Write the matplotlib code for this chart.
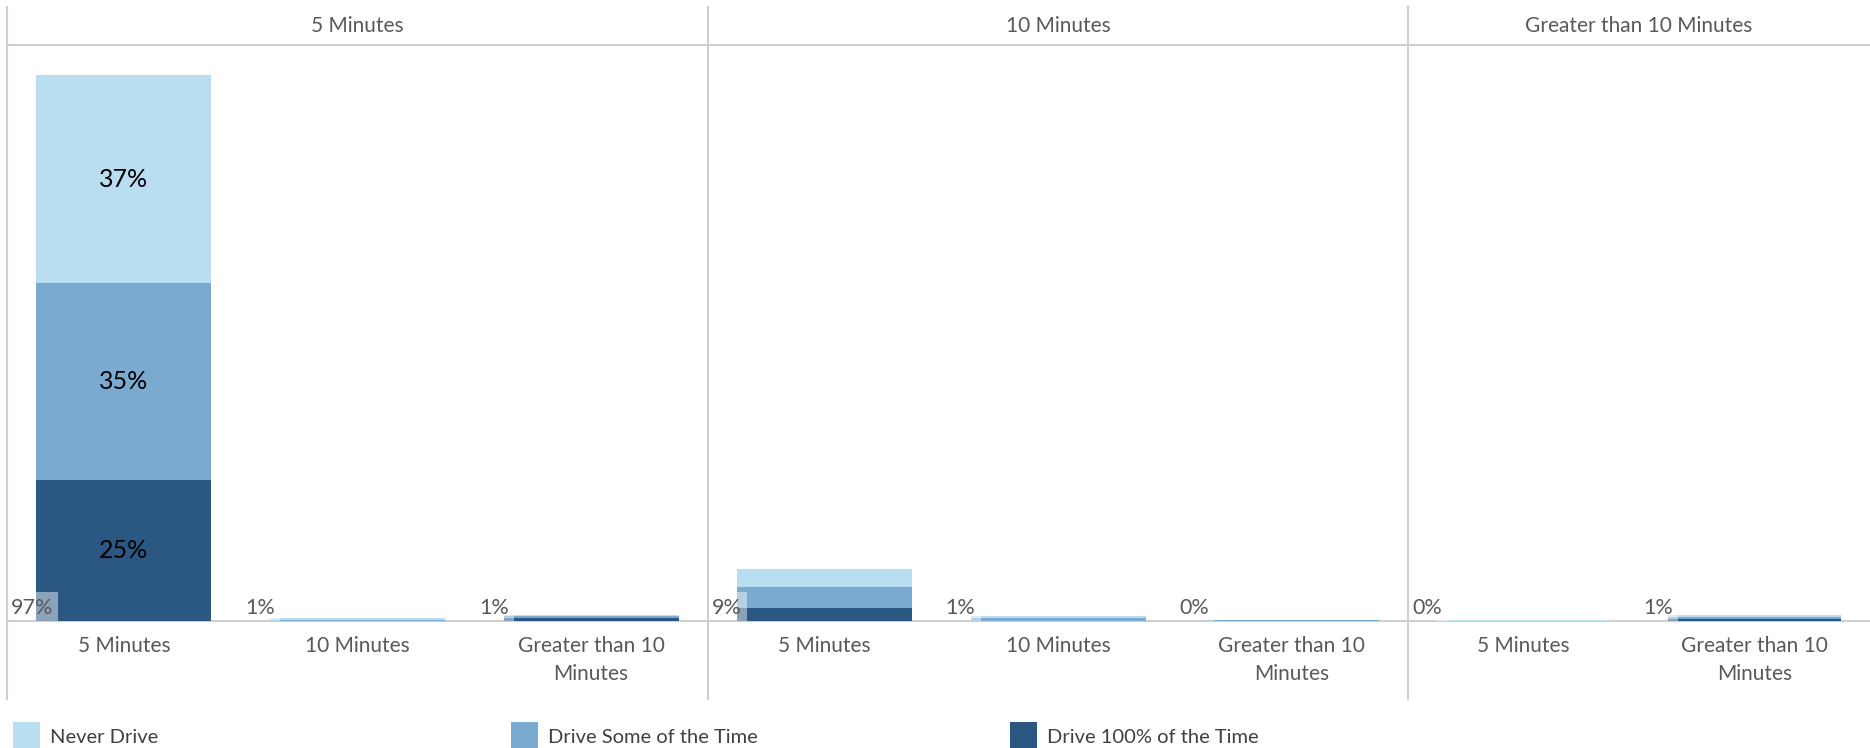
import numpy as np
import matplotlib
matplotlib.use('Agg')
import matplotlib.pyplot as plt
from matplotlib.lines import Line2D
from matplotlib.patches import Rectangle
import matplotlib.transforms as mtransforms

plt.rcParams['font.family'] = ['Lato', 'DejaVu Sans']

# data
panels = ['5 Minutes', '10 Minutes', 'Greater than 10 Minutes']
panel_cats = [['5 Minutes', '10 Minutes', 'Greater than 10\nMinutes'],
              ['5 Minutes', '10 Minutes', 'Greater than 10\nMinutes'],
              ['5 Minutes', 'Greater than 10\nMinutes']]
series = ['Never Drive', 'Drive Some of the Time', 'Drive 100% of the Time']
drive_100 = [[25, 0.0, 0.6], [2.3, 0.0, 0.05], [0.05, 0.4]]
drive_some = [[35, 0.2, 0.2], [3.7, 0.5, 0.05], [0.0, 0.3]]
never_drive = [[37, 0.3, 0.2], [3.2, 0.3, 0.05], [0.05, 0.3]]
totals = [[97, 1, 1], [9, 1, 0], [0, 1]]

colors = {'Never Drive': '#badef1',
          'Drive Some of the Time': '#7aaad0',
          'Drive 100% of the Time': '#2b5783'}
grey_txt = '#595959'
line_c = '#cfcfcf'

W, H = 1870, 748
fig = plt.figure(figsize=(W / 100, H / 100), dpi=100)

# pixel layout
panel_x = [(7, 708), (708, 1408), (1408, 1870)]
y_base, y_head = 621, 45
ymax = 102.3

def fx(px):
    return px / W

def fy(py):
    return 1 - py / H

for p, (x0, x1) in enumerate(panel_x):
    ax = fig.add_axes([fx(x0), fy(y_base), fx(x1 - x0), (y_base - y_head) / H])
    cats = panel_cats[p]
    n = len(cats)
    x = np.arange(n)
    bw = 0.75
    bottom = np.zeros(n)
    stack = [(drive_100[p], 'Drive 100% of the Time'),
             (drive_some[p], 'Drive Some of the Time'),
             (never_drive[p], 'Never Drive')]
    for vals, name in stack:
        vals = np.array(vals, dtype=float)
        ax.bar(x, vals, bw, bottom=bottom, color=colors[name], zorder=3)
        for i in range(n):
            if vals[i] >= 10:
                ax.text(x[i], bottom[i] + vals[i] / 2, f'{vals[i]:.0f}%',
                        ha='center', va='center', fontsize=18, color='black', zorder=5)
        bottom += vals

    # total marker and label at the lower left of each bar
    for i in range(n):
        t = totals[p][i]
        rw = 0.094 if t >= 10 else 0.043
        left = x[i] - bw / 2
        rh = min(bottom[i], 5.2)
        ax.add_patch(Rectangle((left, 0), rw, rh, facecolor='white', alpha=0.45,
                               edgecolor='none', zorder=4))
        tr = mtransforms.offset_copy(ax.transData, fig=fig, x=-5, y=7, units='dots')
        ax.text(left + rw, 0, f'{t}%', transform=tr, ha='right', va='baseline',
                fontsize=15.5, color=grey_txt, zorder=5)

    ax.set_xlim(-0.5, n - 0.5)
    ax.set_ylim(0, ymax)
    ax.set_xticks(x)
    ax.set_xticklabels(cats, fontsize=15, color=grey_txt, linespacing=1.55)
    ax.tick_params(axis='x', length=0, pad=10.5)
    ax.set_yticks([])
    for s in ax.spines.values():
        s.set_visible(False)
    ax.patch.set_alpha(0)

    fig.text(fx((x0 + x1) / 2), fy(26), panels[p], ha='center', va='center',
             fontsize=15, color=grey_txt)

# frame lines
for xv in [7, 708, 1408]:
    fig.add_artist(Line2D([fx(xv), fx(xv)], [fy(7), fy(699)], color=line_c, lw=1.5,
                          transform=fig.transFigure, zorder=0))
for yv in [y_head, y_base]:
    fig.add_artist(Line2D([fx(7), 1], [fy(yv), fy(yv)], color=line_c, lw=1.5,
                          transform=fig.transFigure, zorder=0))

# legend
leg_x = [13, 511, 1010]
for name, lx in zip(series, leg_x):
    fig.add_artist(Rectangle((fx(lx), 0), fx(27), 26 / H, facecolor=colors[name],
                             edgecolor='none', transform=fig.transFigure))
    fig.text(fx(lx + 37), 5 / H, name, ha='left', va='baseline', fontsize=14.5,
             color='#404040')

fig.savefig('out.png', dpi=100)
